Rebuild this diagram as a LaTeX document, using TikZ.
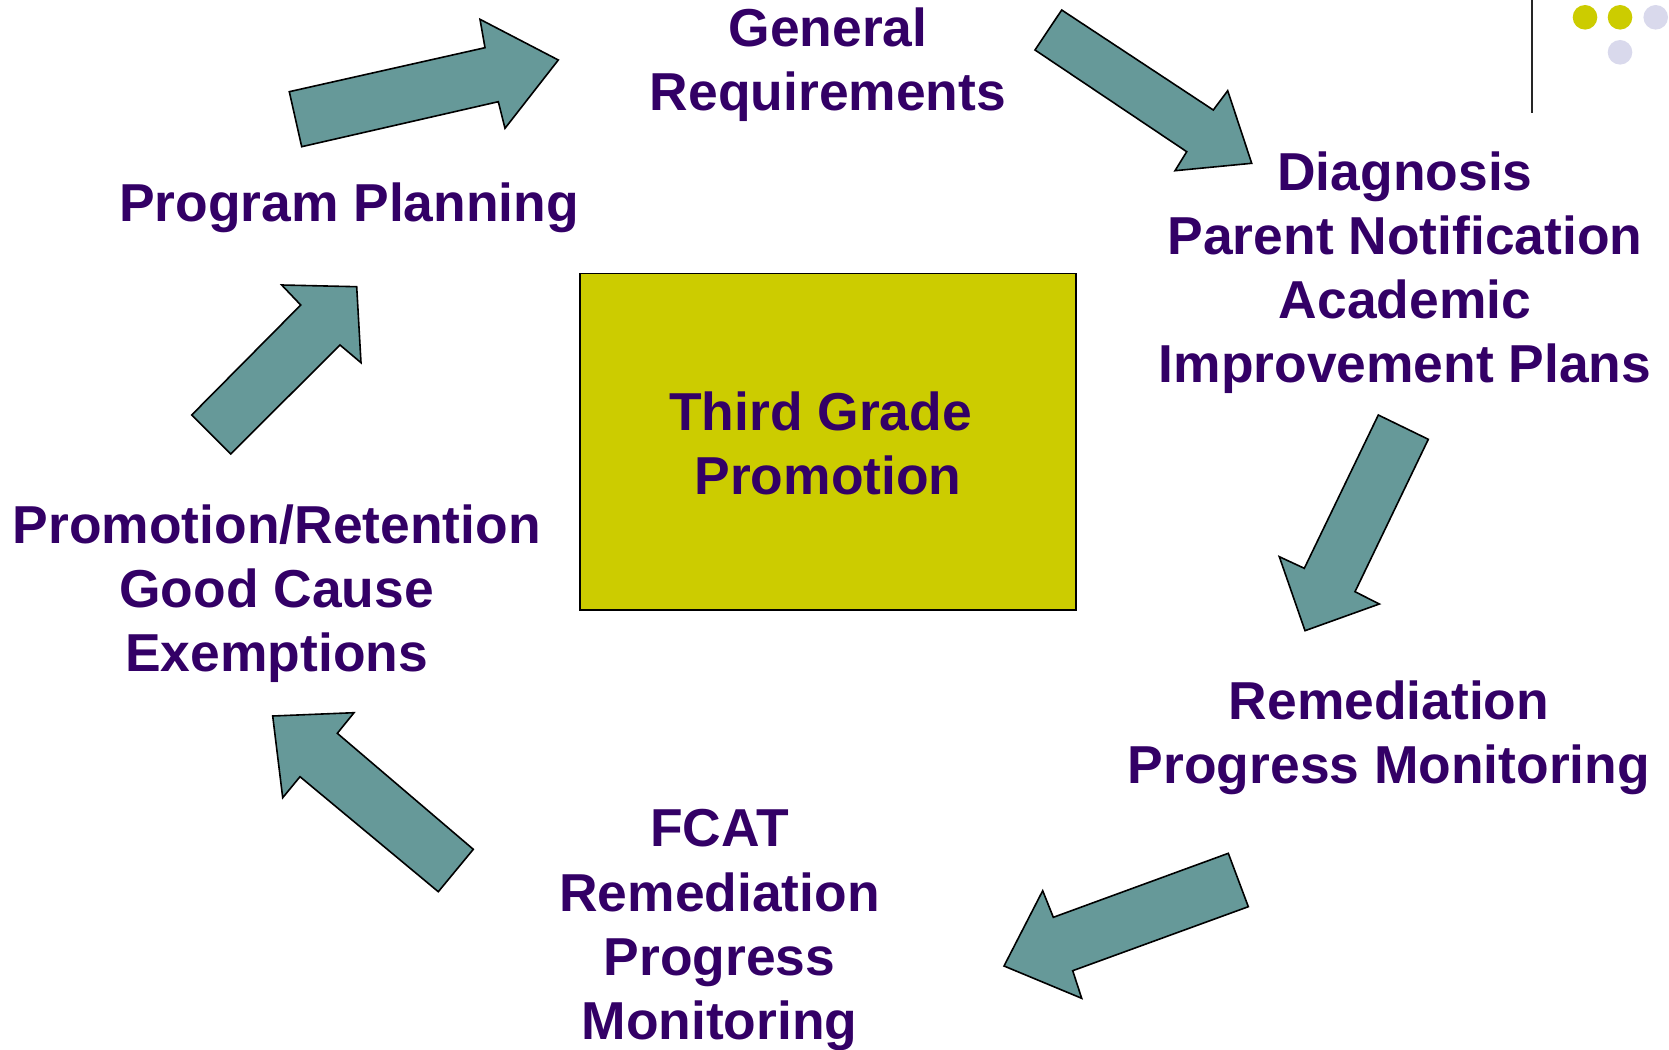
\documentclass[tikz,border=0pt]{standalone}
\usepackage{fontspec}
\setmainfont{Liberation Sans}
\usepackage{tikz}

\definecolor{teal}{HTML}{669999}
\definecolor{olive}{HTML}{CCCC00}
\definecolor{lav}{HTML}{D9D9EC}
\definecolor{ink}{HTML}{330066}

\begin{document}
\begin{tikzpicture}[x=1pt,y=-1pt,
        blockarrow/.style={fill=teal,draw=black,line width=1.6pt,line join=miter},
        lbl/.style={text=ink,align=center,font=\bfseries\fontsize{53.4}{64}\selectfont}]
                \useasboundingbox (0,0) rectangle (1669,1049);
                % arrows round the cycle
                \draw [blockarrow] (301.7,146.7) -- (289.3,91.7) -- (485,47.7) -- (480,19.3) -- (558.3,60) -- (505,128.3) -- (498.3,101.7) -- cycle;
                \draw [blockarrow] (1061.7,10) -- (1035,50) -- (1186.7,151.7) -- (1175,170.7) -- (1251.7,163.3) -- (1227.7,90.7) -- (1213.3,110) -- cycle;
                \draw [blockarrow] (1378.3,415) -- (1428.3,439.3) -- (1355,591.7) -- (1379.3,604) -- (1305,630.7) -- (1279.3,556.7) -- (1304.3,568.3) -- cycle;
                \draw [blockarrow] (1228.3,853.3) -- (1248.3,906.7) -- (1072.7,970.7) -- (1081.7,998.3) -- (1004,966) -- (1042.7,890.7) -- (1053.3,917.3) -- cycle;
                \draw [blockarrow] (473.3,849.3) -- (438.3,891.7) -- (300,776.7) -- (282.7,797.7) -- (272.7,716) -- (354,712.7) -- (337.3,733.3) -- cycle;
                \draw [blockarrow] (230.7,454) -- (191.7,415) -- (300.7,305) -- (281.7,285) -- (356.7,286.7) -- (361,362.7) -- (340,345) -- cycle;
                % centre box
                \draw [fill=olive,line width=1.6pt] (580.1,273.6) rectangle (1076.1,609.9);
                \node [lbl] (centre) at (828,443) {Third Grade\hspace*{15pt}\\Promotion};
                % stages
                \node [lbl] (general) at (828,65) {General\\Requirements};
                \node [lbl] (diagnosis) at (1405,273) {Diagnosis\\Parent Notification\\Academic\\Improvement Plans};
                \node [lbl] (remedy) at (1389,738) {Remediation\\Progress Monitoring};
                \node [lbl] (fcat) at (719.5,930) {FCAT\\Remediation\\Progress\\Monitoring};
                \node [lbl] (promo) at (276.7,594) {Promotion/Retention\\Good Cause\\Exemptions};
                \node [lbl] (planning) at (349,208) {Program Planning};
                % corner ornament
                \draw [line width=2pt,black!85] (1532.3,0) -- (1532.3,113.3);
                \fill [olive] (1585,17.3) circle [radius=12.3];
                \fill [olive] (1620,17.3) circle [radius=12.3];
                \fill [lav] (1655.7,17.3) circle [radius=12.3];
                \fill [lav] (1620,52.3) circle [radius=12.3];
            \end{tikzpicture}
\end{document}
